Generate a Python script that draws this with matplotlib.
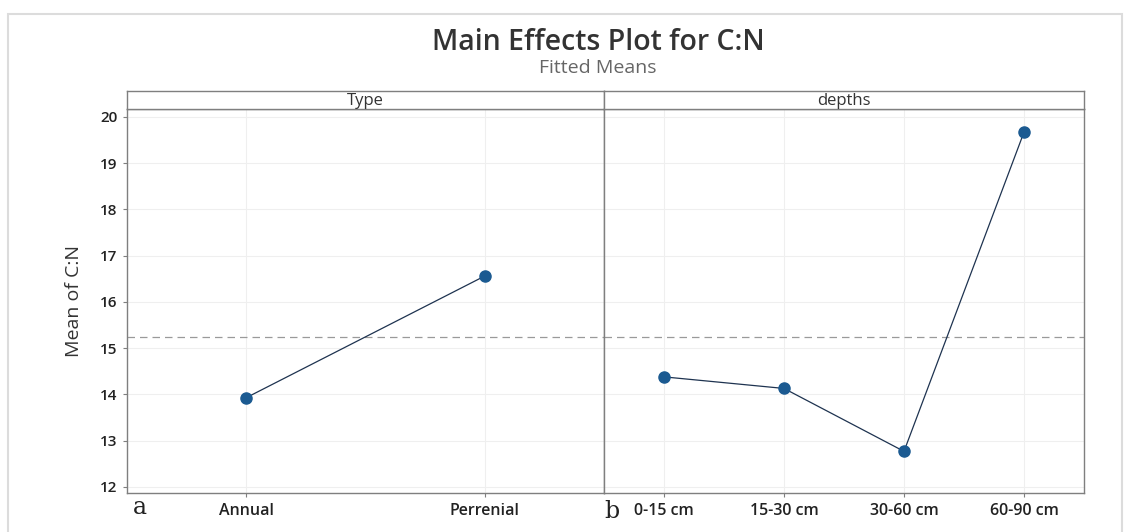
import matplotlib
matplotlib.use("Agg")
import matplotlib.pyplot as plt
from matplotlib.patches import Rectangle

# data
type_labels = ["Annual", "Perrenial"]
type_means = [13.93, 16.56]
depth_labels = ["0-15 cm", "15-30 cm", "30-60 cm", "60-90 cm"]
depth_means = [14.38, 14.13, 12.77, 19.67]
overall_mean = 15.24
panel_names = ["Type", "depths"]
panel_letters = ["a", "b"]
y_ticks = [12, 13, 14, 15, 16, 17, 18, 19, 20]

plt.rcParams["font.family"] = ["Open Sans", "DejaVu Sans"]

GRAY = "#7f7f7f"
BLUE = "#1b5a91"

fig = plt.figure(figsize=(11.28, 5.32), dpi=100)

# light frame around the whole picture
fig.patches.append(Rectangle((8 / 1128, -0.01), 1114 / 1128, 1 - 14 / 532 + 0.01,
                             transform=fig.transFigure, fill=False,
                             edgecolor="#dcdcdc", linewidth=1.5))

left, right = 127 / 1128, 1084 / 1128
bottom, top = 1 - 493 / 532, 1 - 109 / 532
strip_top = 1 - 91 / 532
mid = 604 / 1128

panels = [
    (left, mid - left, type_labels, type_means),
    (mid, right - mid, depth_labels, depth_means),
]

for i, (x0, w, labels, means) in enumerate(panels):
    ax = fig.add_axes([x0, bottom, w, top - bottom])
    xs = list(range(1, len(labels) + 1))
    ax.plot(xs, means, color="#1e3350", linewidth=0.9, zorder=3)
    ax.plot(xs, means, "o", color=BLUE, markersize=8, zorder=4)
    ax.axhline(overall_mean, color="#9a9a9a", linestyle=(0, (6, 4)),
               linewidth=0.9, zorder=2)
    ax.set_xlim(0.5, len(labels) + 0.5)
    ax.set_ylim(11.87, 20.17)
    ax.set_xticks(xs)
    ax.set_xticklabels(labels, fontsize=11.5, color="#222222",
                       fontweight="semibold")
    ax.set_yticks(y_ticks)
    ax.grid(True, color="#efefef", linewidth=0.8, zorder=0)
    for sp in ax.spines.values():
        sp.set_color(GRAY)
        sp.set_linewidth(1.0)
    ax.tick_params(axis="both", color=GRAY, length=3, width=0.8, pad=4)
    if i == 0:
        ax.tick_params(axis="y", labelsize=11, labelcolor="#222222")
        for t in ax.get_yticklabels():
            t.set_fontweight("semibold")
        ax.set_ylabel("Mean of C:N", fontsize=14, color="#333333",
                      labelpad=12)
    else:
        ax.tick_params(axis="y", left=False, labelleft=False)

    # panel header strip
    hx = fig.add_axes([x0, top, w, strip_top - top])
    hx.set_xticks([])
    hx.set_yticks([])
    for sp in hx.spines.values():
        sp.set_color(GRAY)
        sp.set_linewidth(1.0)
    hx.text(0.5, 0.45, panel_names[i], ha="center", va="center",
            fontsize=12, color="#333333", transform=hx.transAxes)

# panel letters
fig.text(140 / 1128, 1 - 507 / 532, panel_letters[0], family="DejaVu Serif",
         fontsize=17, ha="center", va="center", color="#222222")
fig.text(612 / 1128, 1 - 511 / 532, panel_letters[1], family="DejaVu Serif",
         fontsize=17, ha="center", va="center", color="#222222")

fig.text(598 / 1128, 1 - 43 / 532, "Main Effects Plot for C:N",
         fontsize=20.5, ha="center", va="center", color="#333333",
         fontweight="semibold")
fig.text(598 / 1128, 1 - 68 / 532, "Fitted Means",
         fontsize=14, ha="center", va="center", color="#666666")

plt.savefig("out.png", dpi=100)
